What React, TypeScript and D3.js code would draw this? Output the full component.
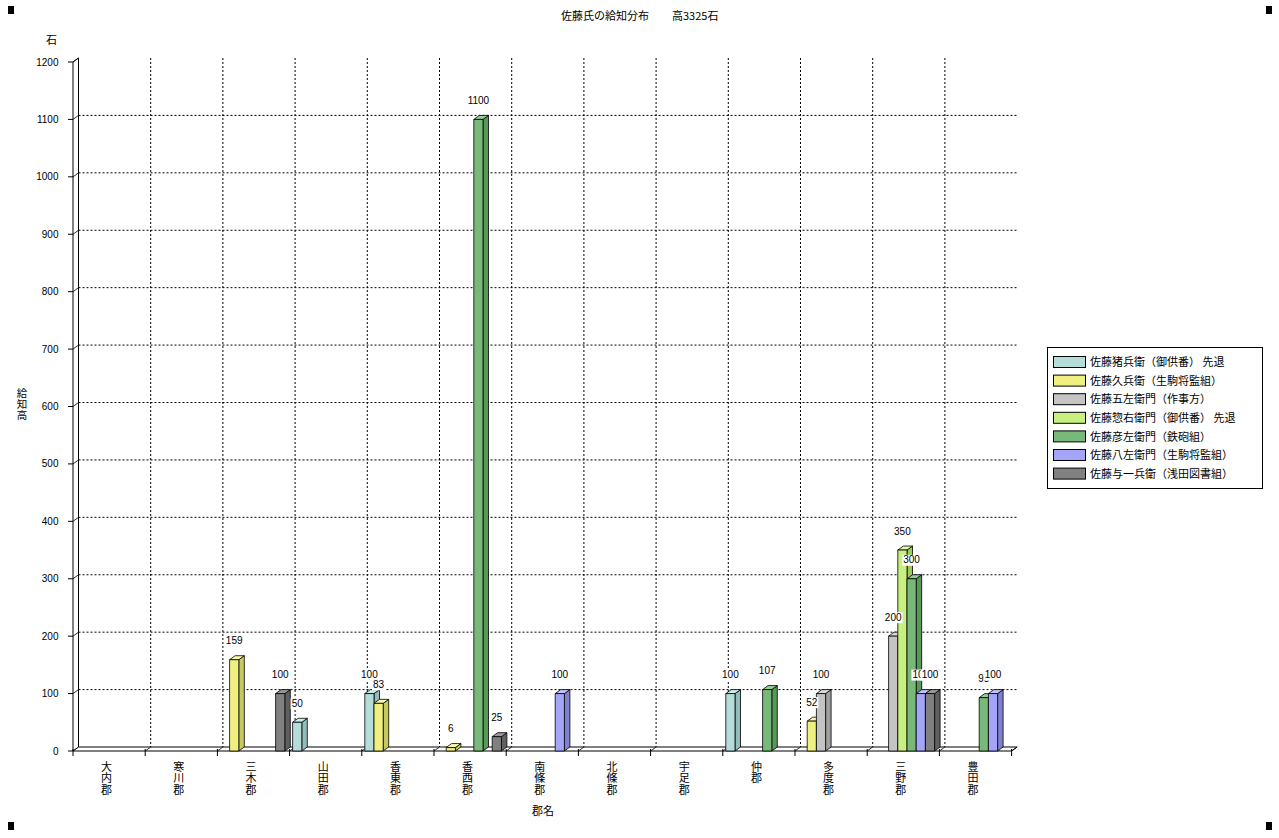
import React from "react";
import * as d3 from "d3";

const categories = ["大内郡", "寒川郡", "三木郡", "山田郡", "香東郡", "香西郡", "南條郡", "北條郡", "宇足郡", "仲郡", "多度郡", "三野郡", "豊田郡"];
const seriesNames = [
  "佐藤猪兵衛（御供番） 先退",
  "佐藤久兵衛（生駒将監組）",
  "佐藤五左衛門（作事方）",
  "佐藤惣右衛門（御供番） 先退",
  "佐藤彦左衛門（鉄砲組）",
  "佐藤八左衛門（生駒将監組）",
  "佐藤与一兵衛（浅田図書組）",
];
const s0: (number | null)[] = [null, null, null, 50, 100, null, null, null, null, 100, null, null, null];
const s1: (number | null)[] = [null, null, 159, null, 83, 6, null, null, null, null, 52, null, null];
const s2: (number | null)[] = [null, null, null, null, null, null, null, null, null, null, 100, 200, null];
const s3: (number | null)[] = [null, null, null, null, null, null, null, null, null, null, null, 350, null];
const s4: (number | null)[] = [null, null, null, null, null, 1100, null, null, null, 107, null, 300, 93];
const s5: (number | null)[] = [null, null, null, null, null, null, 100, null, null, null, null, 100, 100];
const s6: (number | null)[] = [null, null, 100, null, null, 25, null, null, null, null, null, 100, null];
const seriesValues = [s0, s1, s2, s3, s4, s5, s6];
const yTicks = [0, 100, 200, 300, 400, 500, 600, 700, 800, 900, 1000, 1100, 1200];
const titleMain = "佐藤氏の給知分布";
const titleSub = "高3325石";
const yTitle = "給知高";
const xTitle = "郡名";
const yUnit = "石";

const frontColors = ["#b4dcd8", "#f0f080", "#c4c4c4", "#c8f080", "#78b878", "#a4a4f8", "#808080"];
const sideColors = ["#94bcb8", "#c8c860", "#a0a0a0", "#a0c860", "#589858", "#8080d0", "#606060"];
const topColors = ["#c8ecea", "#f8f8a8", "#d8d8d8", "#dcf8a8", "#98cc98", "#c0c0ff", "#989898"];

const CJK = "'Noto Sans CJK JP', sans-serif";
const NUM = "'Liberation Sans', Arial, sans-serif";

export default function App() {
  const x0 = 73;
  const x1 = 1011.6;
  const DX = 5.5;
  const DY = 4;
  const y = d3.scaleLinear().domain([0, 1200]).range([751, 62]);
  const xb = d3.scaleBand().domain(categories).range([x0, x1]).paddingInner(0).paddingOuter(0);
  const bw = 9.2;
  const base = y(0);

  const bars: any[] = [];
  const labels: any[] = [];
  categories.forEach((c, ci) => {
    seriesValues.forEach((vals, si) => {
      const v = vals[ci];
      if (v == null) return;
      const bx = (xb(c) as number) + 3 + si * bw;
      const yt = y(v);
      bars.push(
        <g key={`b${ci}-${si}`} stroke="#000" strokeWidth={0.8} strokeLinejoin="round">
          <polygon
            points={`${bx + bw},${yt} ${bx + bw + DX},${yt - DY} ${bx + bw + DX},${base - DY} ${bx + bw},${base}`}
            fill={sideColors[si]}
          />
          <polygon
            points={`${bx},${yt} ${bx + DX},${yt - DY} ${bx + bw + DX},${yt - DY} ${bx + bw},${yt}`}
            fill={topColors[si]}
          />
          <rect x={bx} y={yt} width={bw} height={base - yt} fill={frontColors[si]} />
        </g>
      );
      const txt = String(v);
      const tw = txt.length * 5.6;
      const cx = bx + bw / 2;
      labels.push(
        <g key={`l${ci}-${si}`}>
          <rect x={cx - tw / 2 - 1} y={yt - 24} width={tw + 2} height={11} fill="#fff" />
          <text x={cx} y={yt - 15.5} textAnchor="middle" fontFamily={NUM} fontSize={10} fill="#000">
            {txt}
          </text>
        </g>
      );
    });
  });

  const tickXs = d3.range(categories.length + 1).map((i) => x0 + i * xb.bandwidth());

  return (
    <svg
      width={1279}
      height={838}
      style={{ position: "absolute", left: 0, top: 0, background: "#fff" }}
    >
      <rect x={0} y={0} width={1279} height={838} fill="#fff" />
      {/* corner handles */}
      <rect x={8} y={6} width={6} height={8} fill="#000" />
      <rect x={1266} y={6} width={6} height={8} fill="#000" />
      <rect x={8} y={822} width={6} height={8} fill="#000" />
      <rect x={1266} y={822} width={6} height={8} fill="#000" />

      {/* title */}
      <text x={561} y={19.5} fontFamily={CJK} fontSize={11} fill="#000">{titleMain}</text>
      <text x={672} y={19.5} fontFamily={CJK} fontSize={11} fill="#000">{titleSub}</text>

      {/* unit */}
      <text x={51.5} y={43.5} textAnchor="middle" fontFamily={CJK} fontSize={11}>{yUnit}</text>

      {/* y axis title vertical */}
      <text
        x={22}
        y={387.5}
        fontFamily={CJK}
        fontSize={10.5}
        style={{ writingMode: "vertical-rl", letterSpacing: "0.7px" }}
      >
        {yTitle}
      </text>

      {/* gridlines horizontal */}
      {yTicks.filter((t) => t > 0 && t < 1200).map((t) => (
        <line key={`gh${t}`} x1={x0 + DX} x2={x1 + DX} y1={y(t) - DY} y2={y(t) - DY} stroke="#000" strokeWidth={1} strokeDasharray="2,2" />
      ))}
      {/* gridlines vertical */}
      {tickXs.slice(1, -1).map((tx, i) => (
        <line key={`gv${i}`} x1={tx + DX} x2={tx + DX} y1={y(1200) - DY} y2={base - DY} stroke="#000" strokeWidth={1} strokeDasharray="2,2" />
      ))}

      {/* left wall */}
      <line x1={x0} x2={x0} y1={y(1200)} y2={base} stroke="#000" strokeWidth={1} />
      <line x1={x0 + DX} x2={x0 + DX} y1={y(1200) - DY} y2={base - DY} stroke="#000" strokeWidth={1} />
      <line x1={x0} x2={x0 + DX} y1={y(1200)} y2={y(1200) - DY} stroke="#000" strokeWidth={1} />
      {yTicks.map((t) => (
        <g key={`yt-${t}`}>
          <line x1={x0 - 5} x2={x0} y1={y(t)} y2={y(t)} stroke="#000" />
          <line x1={x0} x2={x0 + DX} y1={y(t)} y2={y(t) - DY} stroke="#000" strokeWidth={0.8} />
          <text x={58.5} y={y(t) + 3.5} textAnchor="end" fontFamily={NUM} fontSize={10}>
            {t}
          </text>
        </g>
      ))}

      {/* floor */}
      <line x1={x0} x2={x1} y1={base} y2={base} stroke="#000" strokeWidth={1} />
      <line x1={x0 + DX} x2={x1 + DX} y1={base - DY} y2={base - DY} stroke="#000" strokeWidth={1} />
      <line x1={x1} x2={x1 + DX} y1={base} y2={base - DY} stroke="#000" strokeWidth={1} />
      {tickXs.map((tx, i) => (
        <g key={`xt${i}`}>
          <line x1={tx} x2={tx} y1={base - 2} y2={base + 5} stroke="#000" />
          <line x1={tx} x2={tx + DX} y1={base} y2={base - DY} stroke="#000" strokeWidth={0.8} />
        </g>
      ))}

      {/* bars */}
      {bars}
      {labels}

      {/* x labels */}
      {categories.map((c) => {
        const cx = (xb(c) as number) + xb.bandwidth() / 2 - 2.5;
        return (
          <text
            key={`xl${c}`}
            x={cx}
            y={761}
            fontFamily={CJK}
            fontSize={11}
            style={{ writingMode: "vertical-rl", letterSpacing: "0.7px" }}
          >
            {c}
          </text>
        );
      })}
      <text x={543} y={815} textAnchor="middle" fontFamily={CJK} fontSize={11}>{xTitle}</text>

      {/* legend */}
      <rect x={1047.5} y={347.5} width={215} height={141} fill="#fff" stroke="#000" strokeWidth={1} />
      {seriesNames.map((n, i) => (
        <g key={`lg${i}`}>
          <rect x={1053.5} y={356.5 + i * 18.6} width={32} height={11} fill={frontColors[i]} stroke="#000" strokeWidth={1} />
          <text x={1090} y={366.2 + i * 18.6} fontFamily={CJK} fontSize={11}>
            {n}
          </text>
        </g>
      ))}
    </svg>
  );
}
